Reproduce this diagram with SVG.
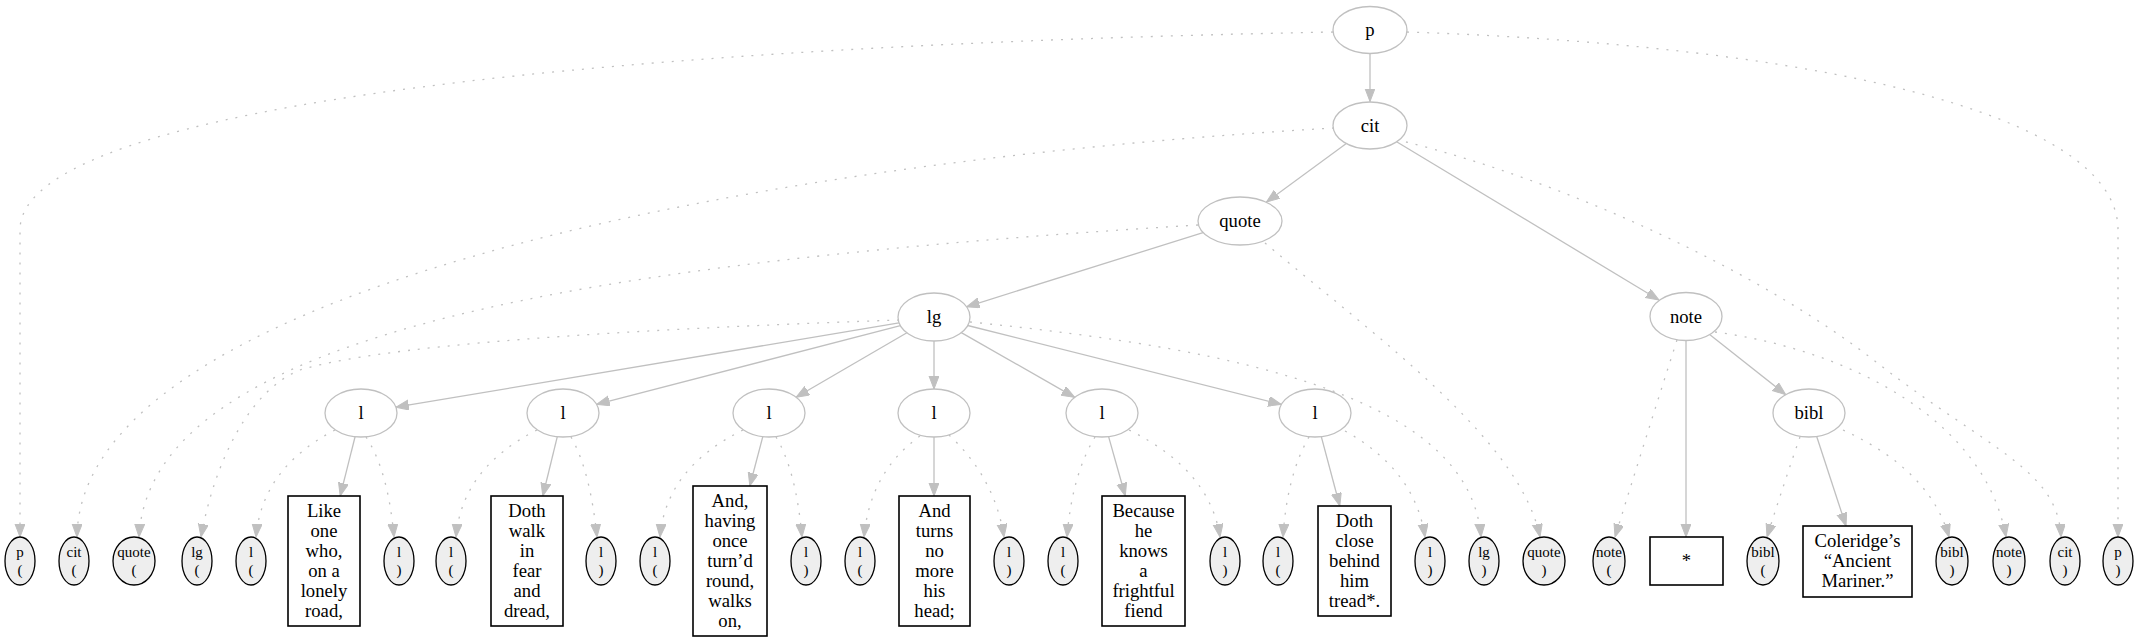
<svg xmlns="http://www.w3.org/2000/svg" width="2139" height="643" viewBox="0 0 2139 643">
<style>
text{font-family:"Liberation Serif","Times New Roman",serif;fill:#000;text-anchor:middle}
.n ellipse{fill:#fff;stroke:#c0c0c0;stroke-width:1.3}
.n text{font-size:18.67px}
.lf ellipse{fill:#eeeeee;stroke:#000;stroke-width:1.3}
.lf text{font-size:15px}
.bx rect{fill:#fff;stroke:#000;stroke-width:1.6}
.bx text{font-size:18.67px}
#edges path{fill:none;stroke:#c0c0c0;stroke-width:1.3;marker-end:url(#ah)}
#edges .d{stroke-dasharray:2,8}
</style>
<defs>
<marker id="ah" markerUnits="userSpaceOnUse" markerWidth="14" markerHeight="11" refX="13" refY="5" orient="auto">
<path d="M0,0 L13,5 L0,10 z" fill="#c0c0c0" stroke="#c0c0c0" stroke-width="1"/>
</marker>
</defs>
<rect width="2139" height="643" fill="#fff"/>
<g id="edges">
<path d="M1370,53.5 L1370,101.5"/>
<path d="M1347,143 L1266.5,202"/>
<path d="M1397,142 L1659,300"/>
<path d="M1203,232.6 L966.6,306.8"/>
<path d="M899,322.9 L395.9,407.2"/>
<path d="M900.4,325.7 L596.6,404.3"/>
<path d="M906.9,332.8 L796.1,397.2"/>
<path d="M934,341 L934,389"/>
<path d="M961.3,332.6 L1074.7,397.4"/>
<path d="M967.7,325.5 L1281.3,404.5"/>
<path d="M355.1,436.7 L340.2,496"/>
<path d="M557.3,436.7 L542.8,496"/>
<path d="M762.8,436.7 L749.8,486"/>
<path d="M934,437 L934,496"/>
<path d="M1108.6,436.6 L1125.3,496"/>
<path d="M1321.3,436.7 L1339.8,506"/>
<path d="M1686,340 L1686,537"/>
<path d="M1709.3,334.3 L1785.7,394.7"/>
<path d="M1816.7,436.5 L1846,526"/>
<path class="d" d="M1333,32 C650,45 20,100 20,230 L20,537"/>
<path class="d" d="M1407,32 C1800,45 2118,110 2118,230 L2118,537"/>
<path class="d" d="M1334,128 C700,165 80,300 77,537"/>
<path class="d" d="M1406,142 C1560,180 1760,270 1880,365 C1990,450 2058,470 2061,537"/>
<path class="d" d="M1198,225 C600,262 150,330 139,537"/>
<path class="d" d="M1265,243 C1380,340 1520,440 1540,537"/>
<path class="d" d="M899,320 C700,327 400,340 300,370 C250,390 215,460 201,537"/>
<path class="d" d="M970,322 C1250,350 1470,400 1481,537"/>
<path class="d" d="M1677,340 Q1645,440 1615,537"/>
<path class="d" d="M1715,332 C1850,350 1985,420 2006,537"/>
<path class="d" d="M1800,437 Q1785,480 1767,537"/>
<path class="d" d="M1843,430 Q1930,470 1949,537"/>
<path class="d" d="M335,430 Q262,468 256,537"/>
<path class="d" d="M366,437 Q388,470 394,537"/>
<path class="d" d="M537,430 Q462,468 456,537"/>
<path class="d" d="M571,437 Q590,470 597,537"/>
<path class="d" d="M743,430 Q666,468 660,537"/>
<path class="d" d="M776,437 Q796,470 802,537"/>
<path class="d" d="M920,436 Q870,472 864,537"/>
<path class="d" d="M949,435 Q995,478 1004,537"/>
<path class="d" d="M1095,437 Q1072,475 1067,537"/>
<path class="d" d="M1129,430 Q1210,470 1220,537"/>
<path class="d" d="M1309,437 Q1287,475 1283,537"/>
<path class="d" d="M1345,431 Q1415,470 1425,537"/>
</g>
<g id="n-p" class="n"><ellipse cx="1370" cy="30" rx="37" ry="23.5"/><text x="1370" y="36">p</text></g>
<g id="n-cit" class="n"><ellipse cx="1370" cy="125.5" rx="37" ry="23.5"/><text x="1370" y="131.5">cit</text></g>
<g id="n-quote" class="n"><ellipse cx="1240" cy="221" rx="42" ry="24"/><text x="1240" y="227">quote</text></g>
<g id="n-lg" class="n"><ellipse cx="934" cy="317" rx="36" ry="24"/><text x="934" y="323">lg</text></g>
<g id="n-note" class="n"><ellipse cx="1686" cy="316.5" rx="36" ry="24"/><text x="1686" y="322.5">note</text></g>
<g id="n-l1" class="n"><ellipse cx="361" cy="413" rx="36" ry="24"/><text x="361" y="419">l</text></g>
<g id="n-l2" class="n"><ellipse cx="563" cy="413" rx="36" ry="24"/><text x="563" y="419">l</text></g>
<g id="n-l3" class="n"><ellipse cx="769" cy="413" rx="36" ry="24"/><text x="769" y="419">l</text></g>
<g id="n-l4" class="n"><ellipse cx="934" cy="413" rx="36" ry="24"/><text x="934" y="419">l</text></g>
<g id="n-l5" class="n"><ellipse cx="1102" cy="413" rx="36" ry="24"/><text x="1102" y="419">l</text></g>
<g id="n-l6" class="n"><ellipse cx="1315" cy="413" rx="36" ry="24"/><text x="1315" y="419">l</text></g>
<g id="n-bibl" class="n"><ellipse cx="1809" cy="413" rx="36" ry="24"/><text x="1809" y="419">bibl</text></g>
<g id="lf-p-open" class="lf"><ellipse cx="20" cy="561" rx="15" ry="24"/><text x="20" y="557">p</text><text x="20" y="575">(</text></g>
<g id="lf-cit-open" class="lf"><ellipse cx="74" cy="561" rx="15" ry="24"/><text x="74" y="557">cit</text><text x="74" y="575">(</text></g>
<g id="lf-quote-open" class="lf"><ellipse cx="134" cy="561" rx="21" ry="24"/><text x="134" y="557">quote</text><text x="134" y="575">(</text></g>
<g id="lf-lg-open" class="lf"><ellipse cx="197" cy="561" rx="15" ry="24"/><text x="197" y="557">lg</text><text x="197" y="575">(</text></g>
<g id="lf-l1-open" class="lf"><ellipse cx="251" cy="561" rx="15" ry="24"/><text x="251" y="557">l</text><text x="251" y="575">(</text></g>
<g id="t1" class="bx"><rect x="288" y="496" width="72" height="130"/><text x="324" y="517">Like</text><text x="324" y="537">one</text><text x="324" y="557">who,</text><text x="324" y="577">on a</text><text x="324" y="597">lonely</text><text x="324" y="617">road,</text></g>
<g id="lf-l1-close" class="lf"><ellipse cx="399" cy="561" rx="15" ry="24"/><text x="399" y="557">l</text><text x="399" y="575">)</text></g>
<g id="lf-l2-open" class="lf"><ellipse cx="451" cy="561" rx="15" ry="24"/><text x="451" y="557">l</text><text x="451" y="575">(</text></g>
<g id="t2" class="bx"><rect x="491" y="496" width="72" height="130"/><text x="527" y="517">Doth</text><text x="527" y="537">walk</text><text x="527" y="557">in</text><text x="527" y="577">fear</text><text x="527" y="597">and</text><text x="527" y="617">dread,</text></g>
<g id="lf-l2-close" class="lf"><ellipse cx="601" cy="561" rx="15" ry="24"/><text x="601" y="557">l</text><text x="601" y="575">)</text></g>
<g id="lf-l3-open" class="lf"><ellipse cx="655" cy="561" rx="15" ry="24"/><text x="655" y="557">l</text><text x="655" y="575">(</text></g>
<g id="t3" class="bx"><rect x="693" y="486" width="74" height="150"/><text x="730" y="507">And,</text><text x="730" y="527">having</text><text x="730" y="547">once</text><text x="730" y="567">turn’d</text><text x="730" y="587">round,</text><text x="730" y="607">walks</text><text x="730" y="627">on,</text></g>
<g id="lf-l3-close" class="lf"><ellipse cx="806" cy="561" rx="15" ry="24"/><text x="806" y="557">l</text><text x="806" y="575">)</text></g>
<g id="lf-l4-open" class="lf"><ellipse cx="860" cy="561" rx="15" ry="24"/><text x="860" y="557">l</text><text x="860" y="575">(</text></g>
<g id="t4" class="bx"><rect x="899" y="496" width="71" height="130"/><text x="934.5" y="517">And</text><text x="934.5" y="537">turns</text><text x="934.5" y="557">no</text><text x="934.5" y="577">more</text><text x="934.5" y="597">his</text><text x="934.5" y="617">head;</text></g>
<g id="lf-l4-close" class="lf"><ellipse cx="1009" cy="561" rx="15" ry="24"/><text x="1009" y="557">l</text><text x="1009" y="575">)</text></g>
<g id="lf-l5-open" class="lf"><ellipse cx="1063" cy="561" rx="15" ry="24"/><text x="1063" y="557">l</text><text x="1063" y="575">(</text></g>
<g id="t5" class="bx"><rect x="1102" y="496" width="83" height="130"/><text x="1143.5" y="517">Because</text><text x="1143.5" y="537">he</text><text x="1143.5" y="557">knows</text><text x="1143.5" y="577">a</text><text x="1143.5" y="597">frightful</text><text x="1143.5" y="617">fiend</text></g>
<g id="lf-l5-close" class="lf"><ellipse cx="1225" cy="561" rx="15" ry="24"/><text x="1225" y="557">l</text><text x="1225" y="575">)</text></g>
<g id="lf-l6-open" class="lf"><ellipse cx="1278" cy="561" rx="15" ry="24"/><text x="1278" y="557">l</text><text x="1278" y="575">(</text></g>
<g id="t6" class="bx"><rect x="1318" y="506" width="73" height="110"/><text x="1354.5" y="527">Doth</text><text x="1354.5" y="547">close</text><text x="1354.5" y="567">behind</text><text x="1354.5" y="587">him</text><text x="1354.5" y="607">tread*.</text></g>
<g id="lf-l6-close" class="lf"><ellipse cx="1430" cy="561" rx="15" ry="24"/><text x="1430" y="557">l</text><text x="1430" y="575">)</text></g>
<g id="lf-lg-close" class="lf"><ellipse cx="1484" cy="561" rx="15" ry="24"/><text x="1484" y="557">lg</text><text x="1484" y="575">)</text></g>
<g id="lf-quote-close" class="lf"><ellipse cx="1544" cy="561" rx="21" ry="24"/><text x="1544" y="557">quote</text><text x="1544" y="575">)</text></g>
<g id="lf-note-open" class="lf"><ellipse cx="1609" cy="561" rx="16" ry="24"/><text x="1609" y="557">note</text><text x="1609" y="575">(</text></g>
<g id="t7" class="bx"><rect x="1650" y="537" width="73" height="48"/><text x="1686.5" y="567">*</text></g>
<g id="lf-bibl-open" class="lf"><ellipse cx="1763" cy="561" rx="16" ry="24"/><text x="1763" y="557">bibl</text><text x="1763" y="575">(</text></g>
<g id="t8" class="bx"><rect x="1803" y="526" width="109" height="71"/><text x="1857.5" y="547">Coleridge’s</text><text x="1857.5" y="567">“Ancient</text><text x="1857.5" y="587">Mariner.”</text></g>
<g id="lf-bibl-close" class="lf"><ellipse cx="1952" cy="561" rx="16" ry="24"/><text x="1952" y="557">bibl</text><text x="1952" y="575">)</text></g>
<g id="lf-note-close" class="lf"><ellipse cx="2009" cy="561" rx="16" ry="24"/><text x="2009" y="557">note</text><text x="2009" y="575">)</text></g>
<g id="lf-cit-close" class="lf"><ellipse cx="2065" cy="561" rx="15" ry="24"/><text x="2065" y="557">cit</text><text x="2065" y="575">)</text></g>
<g id="lf-p-close" class="lf"><ellipse cx="2118" cy="561" rx="15" ry="24"/><text x="2118" y="557">p</text><text x="2118" y="575">)</text></g>
</svg>
